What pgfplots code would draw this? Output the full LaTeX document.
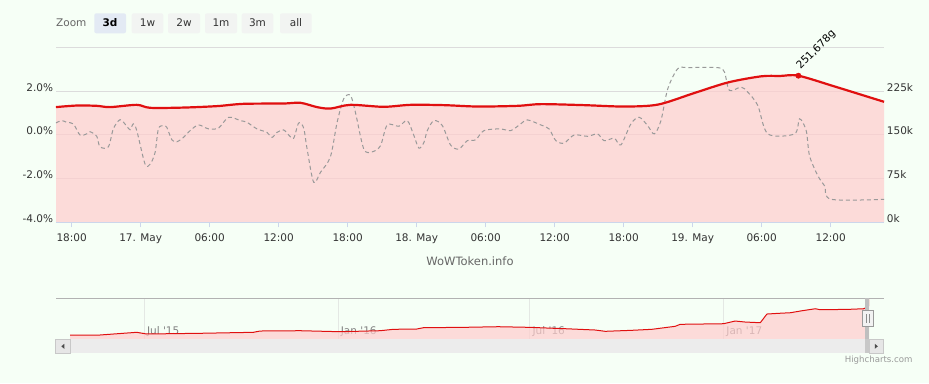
\documentclass[border=0pt]{standalone}
\usepackage{fontspec}
\setmainfont{DejaVu Sans}
\usepackage{pgfplots}
\usepackage{pgfplotstable}
\pgfplotsset{compat=1.18}
\definecolor{bg}{HTML}{F6FFF6}
\definecolor{gridc}{HTML}{DCDCDC}
\definecolor{axisc}{HTML}{CCD6EB}
\definecolor{redc}{HTML}{E01010}
\definecolor{pinkc}{HTML}{FFCDCD}
\definecolor{dashc}{HTML}{999999}
\definecolor{labc}{HTML}{333333}
\definecolor{btnc}{HTML}{F2F4F2}
\definecolor{btnsel}{HTML}{E3EAF4}
\definecolor{navgrid}{HTML}{E4E8E4}
\definecolor{navline}{HTML}{B2B2B2}
\definecolor{scrtrack}{HTML}{ECECEC}
\definecolor{scrbtn}{HTML}{E6E6E6}
\definecolor{scrborder}{HTML}{C8C8C8}

\pgfplotstableread{
h v
16.63 197.8
18.44 200.5
20.18 200.0
21.34 197.8
23.66 201.7
24.82 196.6
27.69 197.0
30.63 199.5
32.92 203.4
36.41 204.0
37.89 205.2
39.34 197.8
40.50 195.3
42.24 201.7
45.12 198.3
47.47 201.7
50.35 201.2
53.31 198.8
56.79 200.0
58.80 202.9
62.54 201.2
66.03 198.8
68.99 202.2
72.13 221.9
75.09 240.2
77.96 250.6
79.60 251.2
81.19 251.678
84.32 233.3
86.50 220.0
88.64 206.9
}\pricetab

\pgfplotstableread{
h p
16.63 0.55
17.13 0.66
17.56 0.58
18.14 0.51
18.72 0.00
19.30 0.05
19.59 0.15
20.18 -0.06
20.46 -0.54
21.19 -0.54
21.62 0.28
22.21 0.70
22.79 0.40
23.08 0.24
23.36 0.51
23.66 0.20
24.38 -1.33
24.82 -1.33
25.25 -0.80
25.54 0.28
25.98 0.43
26.27 0.35
26.71 -0.22
27.14 -0.31
27.72 -0.11
28.30 0.20
29.03 0.46
29.90 0.28
30.77 0.32
31.64 0.81
32.66 0.66
33.24 0.58
34.11 0.28
34.98 0.12
35.42 -0.11
35.85 0.12
36.43 0.23
36.87 0.00
37.30 -0.15
37.74 0.55
38.17 0.32
38.47 -0.64
39.04 -2.16
39.63 -1.71
40.50 -0.99
41.08 0.58
41.66 1.66
42.24 1.81
42.67 1.04
43.40 -0.64
44.13 -0.77
44.85 -0.49
45.44 0.46
46.45 0.40
47.18 0.66
47.76 -0.03
48.19 -0.60
48.63 -0.34
48.92 0.20
49.50 0.66
50.23 0.43
50.95 -0.46
51.67 -0.64
52.40 -0.26
53.13 -0.22
53.85 0.20
55.31 0.28
56.18 0.20
57.05 0.51
57.63 0.69
58.79 0.46
59.51 0.28
60.10 -0.26
60.82 -0.37
61.69 0.00
62.86 -0.06
63.73 0.05
64.30 -0.26
65.18 -0.15
65.76 -0.45
66.63 0.51
67.35 0.81
68.08 0.43
68.66 0.05
69.24 0.66
69.83 2.11
70.70 3.03
71.57 3.08
74.18 3.08
74.76 2.88
75.19 2.04
76.21 2.19
76.79 1.96
77.66 1.35
78.54 0.05
80.85 0.05
81.29 0.74
81.87 0.20
82.16 -0.95
82.89 -1.87
83.47 -2.33
84.05 -2.94
88.64 -2.94
}\changetab

\pgfplotstableread{
d v
110.4 25.2
138.9 25.2
173.7 42.1
183.2 31.5
233.9 35.9
284.5 42.1
290.8 50.3
328.8 52.2
366.8 45.9
404.8 52.2
417.4 61.0
439.6 62.9
445.9 71.1
485.5 73.6
517.1 77.4
545.6 73.6
580.5 64.8
608.9 56.6
618.5 48.4
643.8 54.7
662.8 61.0
684.9 79.9
689.7 92.5
730.8 96.2
741.9 113.2
751.4 106.9
765.7 102.5
772.0 157.3
783.0 161.7
794.2 165.4
805.3 178.0
818.0 190.6
822.7 184.3
849.6 186.8
863.8 190.6
866.2 198.0
868.4 251.7
868.9 206.9
}\navtab

\pgfplotsset{
  mainax/.style={
    at={(56pt,160.5pt)}, anchor=south west, scale only axis,
    width=828pt, height=175pt,
    xmin=16.635, xmax=88.635,
    ticklabel style={font=\fontsize{10.5}{12}\selectfont, text=labc},
  }
}

\begin{document}
\begin{tikzpicture}
\fill[bg] (0pt,0pt) rectangle (929pt,383pt);

% range selector
\begin{scope}[x=1pt,y=1pt]
\node[anchor=base west, inner sep=0pt, text=black!60, font=\fontsize{10.5}{12}\selectfont] at (56,356) {Zoom};
\fill[btnsel, rounded corners=2pt] (94.3,349.7) rectangle (126,369.7);
\fill[btnc, rounded corners=2pt] (131.7,349.7) rectangle (163.3,369.7);
\fill[btnc, rounded corners=2pt] (168,349.7) rectangle (200,369.7);
\fill[btnc, rounded corners=2pt] (205,349.7) rectangle (237,369.7);
\fill[btnc, rounded corners=2pt] (241.7,349.7) rectangle (273.3,369.7);
\fill[btnc, rounded corners=2pt] (280,349.7) rectangle (311.7,369.7);
\node[anchor=base, inner sep=0pt, font=\fontsize{10.5}{12}\selectfont\bfseries] at (110,356) {3d};
\node[anchor=base, inner sep=0pt, text=labc, font=\fontsize{10.5}{12}\selectfont] at (147.5,356) {1w};
\node[anchor=base, inner sep=0pt, text=labc, font=\fontsize{10.5}{12}\selectfont] at (184,356) {2w};
\node[anchor=base, inner sep=0pt, text=labc, font=\fontsize{10.5}{12}\selectfont] at (221,356) {1m};
\node[anchor=base, inner sep=0pt, text=labc, font=\fontsize{10.5}{12}\selectfont] at (257.5,356) {3m};
\node[anchor=base, inner sep=0pt, text=labc, font=\fontsize{10.5}{12}\selectfont] at (296,356) {all};
\end{scope}

% axis A: grid + area (price scale)
\begin{axis}[mainax, ymin=0, ymax=300, ytick={0,75,150,225,300}, yticklabels={},
  ymajorgrids, grid style={draw=gridc, line width=1pt},
  xtick=\empty, axis line style={draw=none}, major tick length=0pt]
\addplot[draw=none, fill=pinkc, fill opacity=0.7, smooth] table[x=h, y=v] {\pricetab} \closedcycle;
\end{axis}

% axis B: percentage change (left)
\begin{axis}[mainax, ymin=-4, ymax=4, ytick={-4,-2,0,2},
  yticklabels={-4.0\%,-2.0\%,0.0\%,2.0\%},
  xtick={18,24,30,36,42,48,54,60,66,72,78,84},
  xticklabels={18:00,17. May,06:00,12:00,18:00,18. May,06:00,12:00,18:00,19. May,06:00,12:00},
  axis x line*=bottom, axis y line*=left,
  x axis line style={draw=axisc, line width=1pt, -},
  y axis line style={draw=none}, ytick style={draw=none},
  tick align=inside, major tick length=5pt,
  xtick style={draw=axisc, line width=1pt, yshift=-5pt},
  xticklabel style={anchor=base, inner sep=0pt, yshift=-19.3pt},
  yticklabel style={anchor=base east, inner sep=0pt, xshift=-2.7pt}]
\addplot[dashc, line width=1pt, dash pattern=on 4pt off 3pt, smooth] table[x=h, y=p] {\changetab};
\end{axis}

% axis C: price line (right)
\begin{axis}[mainax, ymin=0, ymax=300, ytick={0,75,150,225},
  yticklabels={0k,75k,150k,225k},
  xtick=\empty, axis x line=none, axis y line*=right,
  y axis line style={draw=none}, ytick style={draw=none},
  tick align=inside, major tick length=0pt,
  yticklabel style={anchor=base west, inner sep=0pt, xshift=2.7pt},
  clip=false]
\addplot[redc, line width=2.2pt, smooth] table[x=h, y=v] {\pricetab};
\addplot[only marks, mark=*, mark size=2.7pt, mark options={fill=redc, draw=redc},
  nodes near coords={251,678g},
  every node near coord/.style={anchor=base west, inner sep=0pt, xshift=2pt, yshift=6pt, rotate=45,
    font=\fontsize{10.5}{12}\selectfont, text=black}]
  coordinates {(81.19,251.678)};
\end{axis}

% navigator
\begin{axis}[at={(70pt,44pt)}, anchor=south west, scale only axis,
  width=799pt, height=40pt, xmin=110.4, xmax=868.9, ymin=0, ymax=252,
  xtick={181,365,547,731},
  xticklabels={Jul \textquotesingle15,Jan \textquotesingle16,Jul \textquotesingle16,Jan \textquotesingle17},
  xmajorgrids, grid style={draw=navgrid, line width=1pt},
  ytick=\empty, axis line style={draw=none}, major tick length=0pt,
  xticklabel style={anchor=base west, inner sep=0pt, xshift=2.5pt, yshift=4.2pt,
    font=\fontsize{10.5}{12}\selectfont, text=black!50}]
\addplot[draw=none, fill=pinkc, fill opacity=0.7] table[x=d, y=v] {\navtab} \closedcycle;
\addplot[redc, line width=1pt] table[x=d, y=v] {\navtab};
\end{axis}

\begin{scope}[x=1pt,y=1pt]
% credits title
\node[text=black!60, font=\fontsize{11.5}{13}\selectfont] at (470,121.3) {WoWToken.info};

% navigator outline
\draw[navline, line width=1pt] (56,84) -- (884,84);

% scrollbar
\fill[scrtrack] (70,29.7) rectangle (869.3,43.7);
\fill[scrborder] (865,29.7) rectangle (869,43.7);
\draw[fill=scrbtn, draw=scrborder, line width=0.8pt] (55.7,29.7) rectangle (70,43.7);
\draw[fill=scrbtn, draw=scrborder, line width=0.8pt] (869.3,29.7) rectangle (883.3,43.7);
\fill[black!70] (61.3,36.7) -- (64.3,39.2) -- (64.3,34.2) -- cycle;
\fill[black!70] (877.8,36.7) -- (874.8,39.2) -- (874.8,34.2) -- cycle;

% navigator handle
\fill[black!25] (865,43.7) rectangle (868.5,85);
\draw[fill=black!5, draw=black!40, line width=0.8pt] (862.7,57) rectangle (873.3,72.3);
\draw[black!45, line width=0.8pt] (866.3,60) -- (866.3,69.3) (869.7,60) -- (869.7,69.3);

\node[anchor=base east, inner sep=0pt, text=black!40, font=\fontsize{8.6}{10}\selectfont] at (912.7,20) {Highcharts.com};
\end{scope}

\pgfresetboundingbox
\path (0pt,0pt) rectangle (929pt,383pt);
\end{tikzpicture}
\end{document}
